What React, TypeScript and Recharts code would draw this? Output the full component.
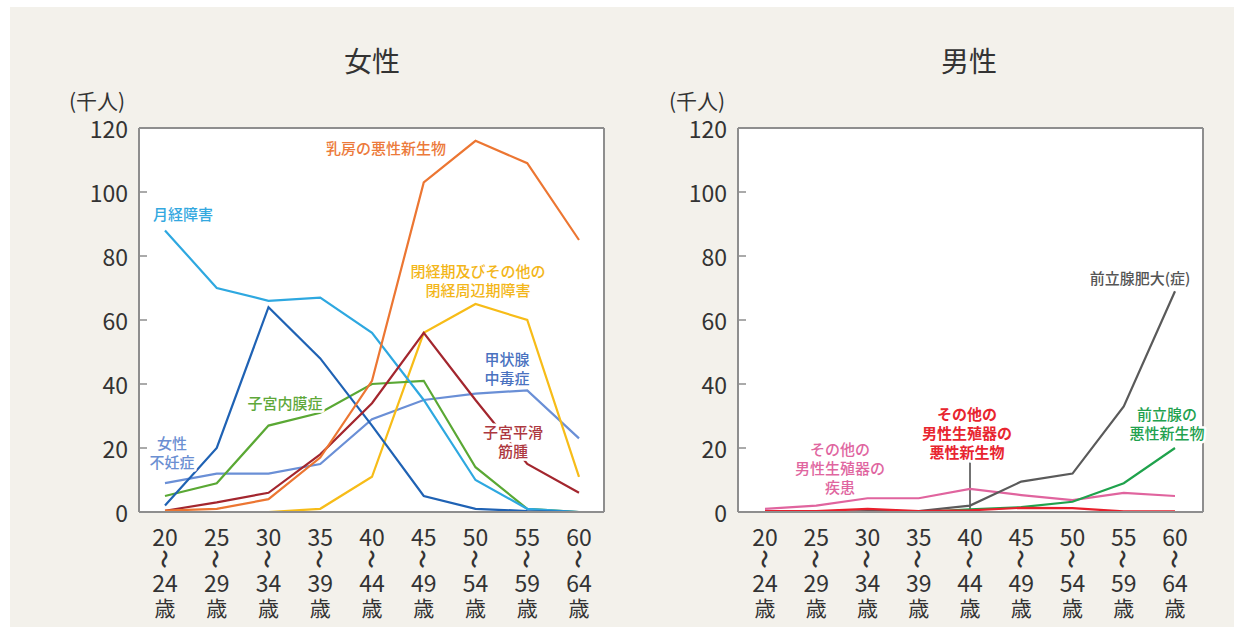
import { CartesianGrid, Line, LineChart, ReferenceLine, XAxis, YAxis } from "recharts";

// 年齢階級（千人単位の患者数）
const AGE_GROUPS = [
  "20〜24歳",
  "25〜29歳",
  "30〜34歳",
  "35〜39歳",
  "40〜44歳",
  "45〜49歳",
  "50〜54歳",
  "55〜59歳",
  "60〜64歳",
];
const COUNT_TICKS = [0, 20, 40, 60, 80, 100, 120];

// 女性
const menstrualDisorder = [88, 70, 66, 67, 56, 35, 10, 1, 0];
const femaleInfertility = [2, 20, 64, 48, 27, 5, 1, 0.3, 0];
const endometriosis = [5, 9, 27, 31, 40, 41, 14, 1, 0];
const breastCancer = [0.4, 1, 4, 17, 41, 103, 116, 109, 85];
const menopausalDisorder = [0, 0, 0, 1, 11, 56, 65, 60, 11];
const uterineFibroid = [0.4, 3, 6, 18, 34, 56, 35, 15, 6];
const thyrotoxicosis = [9, 12, 12, 15, 29, 35, 37, 38, 23];

// 男性
const prostateHyperplasia = [0, 0, 0.3, 0.3, 2, 9.5, 12, 33, 69];
const prostateCancer = [0, 0, 0, 0, 0.8, 1.5, 3.2, 9, 20];
const otherGenitalCancer = [0.3, 0.3, 1, 0.3, 0.5, 1.3, 1.2, 0.2, 0.2];
const otherGenitalDisease = [1, 2, 4.3, 4.3, 7.2, 5.3, 3.7, 6, 5];

const LEADER_TOP = 15.5;

const femaleRows = AGE_GROUPS.map((age, i) => ({
  age,
  menstrual: menstrualDisorder[i],
  infertility: femaleInfertility[i],
  endometriosis: endometriosis[i],
  breast: breastCancer[i],
  menopause: menopausalDisorder[i],
  fibroid: uterineFibroid[i],
  thyroid: thyrotoxicosis[i],
}));

const maleRows = AGE_GROUPS.map((age, i) => ({
  age,
  bph: prostateHyperplasia[i],
  prostate: prostateCancer[i],
  otherCancer: otherGenitalCancer[i],
  otherDisease: otherGenitalDisease[i],
}));

const FONT = "'Noto Sans CJK JP', 'Noto Sans', sans-serif";
const INK = "#333333";
const FRAME = "#8e8e8e";
const PAGE_BG = "#f3f1eb";

const C = {
  menstrual: "#2ea8e0",
  infertility: "#1f62b4",
  endometriosis: "#5aa834",
  breast: "#ec7632",
  menopause: "#f7bc18",
  fibroid: "#a3262e",
  thyroid: "#6a8fd6",
  bph: "#5a5a5a",
  prostate: "#1fa24c",
  otherCancer: "#e8202c",
  otherDisease: "#e0649e",
};

function AgeTick({ x, y, payload }: any) {
  const m = String(payload.value).match(/^(\d+)〜(\d+)(.*)$/);
  if (!m) return null;
  return (
    <g transform={`translate(${x},${y})`} fill={INK} fontFamily={FONT}>
      <text y={24} textAnchor="middle" dominantBaseline="central" fontSize={23}>
        {m[1]}
      </text>
      <text
        transform="translate(0,47) rotate(90)"
        textAnchor="middle"
        dominantBaseline="central"
        fontSize={19}
        fontWeight={700}
      >
        〜
      </text>
      <text y={70} textAnchor="middle" dominantBaseline="central" fontSize={23}>
        {m[2]}
      </text>
      <text y={95} textAnchor="middle" dominantBaseline="central" fontSize={21}>
        {m[3]}
      </text>
    </g>
  );
}

function CountTick({ x, y, payload }: any) {
  return (
    <g>
      <text
        x={x}
        y={y}
        textAnchor="end"
        dominantBaseline="central"
        fontSize={23}
        fill={INK}
        fontFamily={FONT}
      >
        {payload.value}
      </text>
      <line x1={x + 11} x2={x + 19} y1={y} y2={y} stroke={FRAME} strokeWidth={1.5} />
    </g>
  );
}

// プロット領域の外枠（上下左右）
const edgesX = ({ offset }: any) => [offset.left, offset.left + offset.width];
const edgesY = ({ offset }: any) => [offset.top, offset.top + offset.height];

function Frame(padLeft: number, padRight: number) {
  return [
    <CartesianGrid
      key="bg"
      fill="#ffffff"
      stroke={FRAME}
      strokeWidth={2}
      verticalCoordinatesGenerator={edgesX}
      horizontalCoordinatesGenerator={edgesY}
    />,
    <XAxis
      key="x"
      dataKey="age"
      interval={0}
      height={100}
      padding={{ left: padLeft, right: padRight }}
      tickSize={0}
      tickMargin={0}
      tickLine={false}
      axisLine={{ stroke: FRAME, strokeWidth: 2 }}
      tick={<AgeTick />}
    />,
    <YAxis
      key="y"
      width={60}
      domain={[0, 120]}
      ticks={COUNT_TICKS}
      interval={0}
      tickSize={0}
      tickMargin={11}
      tickLine={false}
      axisLine={{ stroke: FRAME, strokeWidth: 2 }}
      tick={<CountTick />}
    />,
  ];
}

function series(key: string, color: string) {
  return (
    <Line
      key={key}
      type="linear"
      dataKey={key}
      stroke={color}
      strokeWidth={2.2}
      dot={false}
      activeDot={false}
      isAnimationActive={false}
    />
  );
}

type Note = { x: number; y: number; lines: string[]; color: string; bold?: boolean };

const notes: Note[] = [
  { x: 386, y: 147, lines: ["乳房の悪性新生物"], color: "#ec7a3a" },
  { x: 183, y: 213, lines: ["月経障害"], color: "#33a8df" },
  { x: 478, y: 270, lines: ["閉経期及びその他の", "閉経周辺期障害"], color: "#f3b619" },
  { x: 507, y: 358, lines: ["甲状腺", "中毒症"], color: "#4a72c0" },
  { x: 285, y: 402, lines: ["子宮内膜症"], color: "#5ea83a" },
  { x: 172, y: 442, lines: ["女性", "不妊症"], color: "#6b8fd2" },
  { x: 513, y: 431, lines: ["子宮平滑", "筋腫"], color: "#ad3840" },
  { x: 1140, y: 277, lines: ["前立腺肥大(症)"], color: "#555555" },
  { x: 1167, y: 413, lines: ["前立腺の", "悪性新生物"], color: "#22a14e" },
  { x: 967, y: 413, lines: ["その他の", "男性生殖器の", "悪性新生物"], color: "#e8252f", bold: true },
  { x: 840, y: 448, lines: ["その他の", "男性生殖器の", "疾患"], color: "#e0669f" },
];

export default function App() {
  return (
    <div
      style={{
        position: "absolute",
        left: 0,
        top: 0,
        width: 1234,
        height: 627,
        background: "#ffffff",
        fontFamily: FONT,
        overflow: "hidden",
      }}
    >
      <div
        style={{
          position: "absolute",
          left: 10,
          top: 7,
          right: 0,
          bottom: 0,
          background: PAGE_BG,
        }}
      />
      <div style={{ position: "absolute", left: 0, top: 0 }}>
        <LineChart
          width={617}
          height={627}
          data={femaleRows}
          margin={{ top: 128, right: 13, bottom: 15, left: 79 }}
        >
          {Frame(26, 25)}
          {series("thyroid", C.thyroid)}
          {series("menopause", C.menopause)}
          {series("endometriosis", C.endometriosis)}
          {series("menstrual", C.menstrual)}
          {series("infertility", C.infertility)}
          {series("fibroid", C.fibroid)}
          {series("breast", C.breast)}
        </LineChart>
      </div>
      <div style={{ position: "absolute", left: 617, top: 0 }}>
        <LineChart
          width={617}
          height={627}
          data={maleRows}
          margin={{ top: 128, right: 31, bottom: 15, left: 61 }}
        >
          {Frame(27, 28)}
          <ReferenceLine
            segment={[
              { x: AGE_GROUPS[4], y: otherGenitalCancer[4] },
              { x: AGE_GROUPS[4], y: LEADER_TOP },
            ]}
            stroke="#444444"
            strokeWidth={1.5}
          />
          {series("otherDisease", C.otherDisease)}
          {series("bph", C.bph)}
          {series("prostate", C.prostate)}
          {series("otherCancer", C.otherCancer)}
        </LineChart>
      </div>
      <svg
        width={1234}
        height={627}
        style={{ position: "absolute", left: 0, top: 0, pointerEvents: "none" }}
        fontFamily={FONT}
      >
        <text x={372} y={60} textAnchor="middle" dominantBaseline="central" fontSize={28} fill={INK}>
          女性
        </text>
        <text x={969} y={60} textAnchor="middle" dominantBaseline="central" fontSize={28} fill={INK}>
          男性
        </text>
        <text x={97} y={100} textAnchor="middle" dominantBaseline="central" fontSize={21} fill={INK}>
          (千人)
        </text>
        <text x={697} y={100} textAnchor="middle" dominantBaseline="central" fontSize={21} fill={INK}>
          (千人)
        </text>
        {notes.map((n) =>
          n.lines.map((t, i) => (
            <text
              key={n.lines.join() + i}
              x={n.x}
              y={n.y + i * 19}
              textAnchor="middle"
              dominantBaseline="central"
              fontSize={15}
              fontWeight={n.bold ? 700 : 500}
              fill={n.color}
              stroke="#ffffff"
              strokeWidth={5}
              strokeLinejoin="round"
              paintOrder="stroke"
            >
              {t}
            </text>
          )),
        )}
      </svg>
    </div>
  );
}
